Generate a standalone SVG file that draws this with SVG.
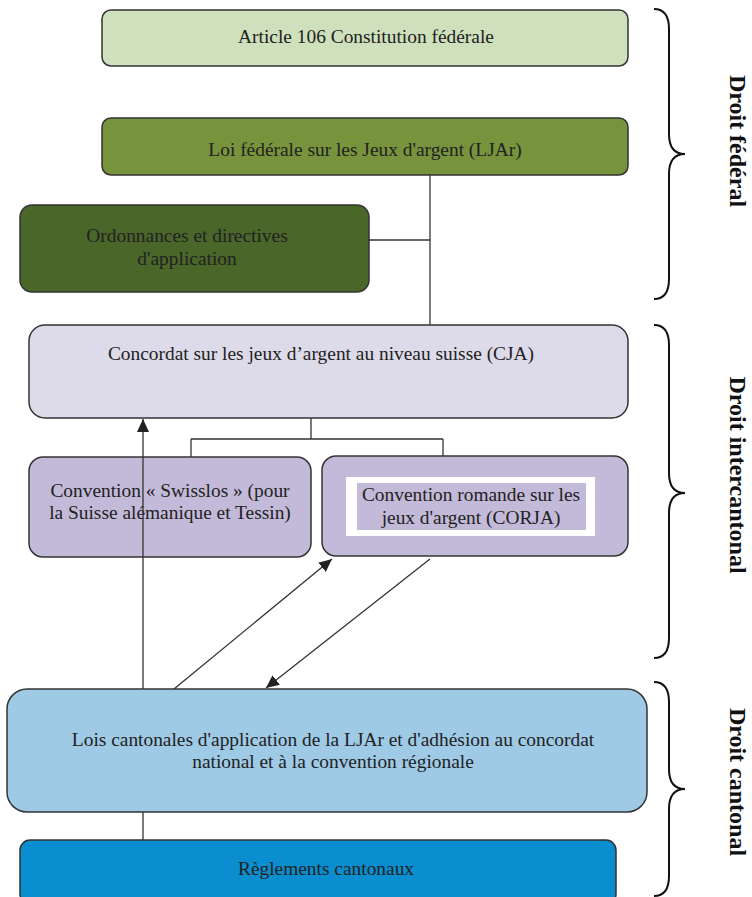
<svg xmlns="http://www.w3.org/2000/svg" width="752" height="897" viewBox="0 0 752 897">
<defs>
<style>
.box{stroke:#333;stroke-width:1.5}
.t{font-family:"Liberation Serif","Times New Roman",serif;font-size:19.4px;fill:#222;text-anchor:middle}
.lbl{font-family:"Liberation Serif","Times New Roman",serif;font-size:24px;font-weight:bold;fill:#111;text-anchor:middle}
.ln{stroke:#333;stroke-width:1.3;fill:none}
.br{stroke:#111;stroke-width:2;fill:none}
</style>
<marker id="ah" markerUnits="userSpaceOnUse" markerWidth="14" markerHeight="12" refX="13" refY="6" orient="auto">
<path d="M0,0 L13,6 L0,12 Z" fill="#222"/>
</marker>
</defs>
<rect width="752" height="897" fill="#fff"/>

<g id="art106">
<rect class="box" x="102" y="10" width="526" height="56" rx="9" fill="#cfe0bc"/>
<text class="t" x="366" y="43">Article 106 Constitution fédérale</text>
</g>
<g id="ljar">
<rect class="box" x="102" y="118" width="526" height="57" rx="9" fill="#77933c"/>
<text class="t" x="365" y="156">Loi fédérale sur les Jeux d'argent (LJAr)</text>
</g>
<g id="ordonnances">
<rect class="box" x="20" y="205" width="349" height="87" rx="12" fill="#4a6629"/>
<text class="t" x="187" y="242">Ordonnances et directives</text>
<text class="t" x="187" y="265">d'application</text>
</g>
<g id="cja">
<rect class="box" x="29" y="325" width="599" height="93" rx="16" fill="#dddbe9"/>
<text class="t" x="321" y="360">Concordat sur les jeux d’argent au niveau suisse (CJA)</text>
</g>
<g id="swisslos">
<rect class="box" x="29" y="457" width="282" height="100" rx="14" fill="#c3bad9"/>
<text class="t" x="170" y="497">Convention « Swisslos » (pour</text>
<text class="t" x="170" y="519">la Suisse alémanique et Tessin)</text>
</g>
<g id="corja">
<rect class="box" x="322" y="456" width="306" height="100" rx="14" fill="#c3bad9"/>
<rect x="346" y="477" width="249" height="59" fill="#fff"/>
<rect x="357" y="483" width="229" height="47" fill="#c3bad9"/>
<text class="t" x="471" y="501">Convention romande sur les</text>
<text class="t" x="471" y="524">jeux d'argent (CORJA)</text>
</g>
<g id="lois">
<rect class="box" x="7" y="689" width="640" height="123" rx="20" fill="#9ecae6"/>
<text class="t" x="333" y="746">Lois cantonales d'application de la LJAr et d'adhésion au concordat</text>
<text class="t" x="333" y="768">national et à la convention régionale</text>
</g>
<g id="reglements">
<rect class="box" x="20" y="840" width="596" height="64" rx="10" fill="#0a8ecf"/>
<text class="t" x="326" y="875">Règlements cantonaux</text>
</g>

<g id="connectors">
<path class="ln" d="M430,175 V325"/>
<path class="ln" d="M369,240 H430"/>
<path class="ln" d="M311,418 V439 M191,439 H443 M191,439 V457 M443,439 V456"/>
<path class="ln" d="M143,689 V419" marker-end="url(#ah)"/>
<path class="ln" d="M174,689 L332,559" marker-end="url(#ah)"/>
<path class="ln" d="M430,559 L266,688" marker-end="url(#ah)"/>
<path class="ln" d="M143,812 V840"/>
</g>

<g id="braces">
<path class="br" d="M654,9 C664,9 669,15 669,29 L669,134 C669,148 675,154 685,154 C675,154 669,160 669,174 L669,279 C669,293 664,299 654,299"/>
<path class="br" d="M654,325 C664,325 669,331 669,345 L669,473 C669,487 675,493 685,493 C675,493 669,499 669,513 L669,638 C669,652 664,658 654,658"/>
<path class="br" d="M654,682 C664,682 669,688 669,702 L669,769 C669,783 675,789 685,789 C675,789 669,795 669,809 L669,876 C669,890 664,896 654,896"/>
</g>

<g id="labels">
<text class="lbl" transform="translate(730,141) rotate(90)">Droit fédéral</text>
<text class="lbl" transform="translate(730,475) rotate(90)">Droit intercantonal</text>
<text class="lbl" transform="translate(730,782) rotate(90)">Droit cantonal</text>
</g>
</svg>
